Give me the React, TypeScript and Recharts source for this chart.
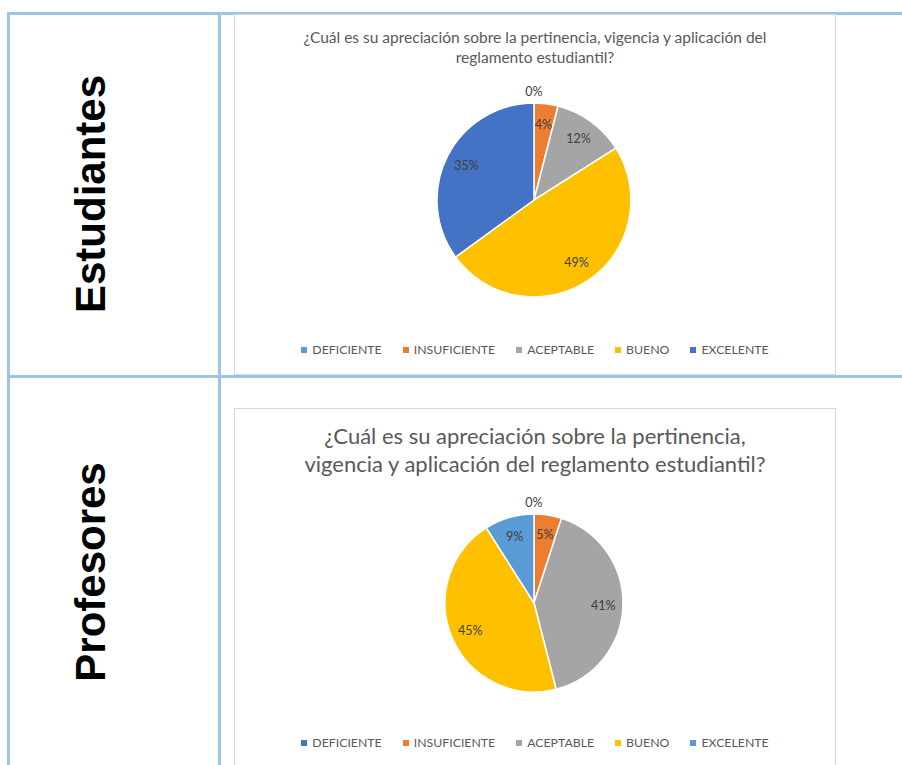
import React from 'react';
import { PieChart, Pie, Cell, Legend } from 'recharts';

// categories and values per survey group
const categories = ['DEFICIENTE', 'INSUFICIENTE', 'ACEPTABLE', 'BUENO', 'EXCELENTE'];
const studentValues = [0, 4, 12, 49, 35];
const teacherValues = [0, 5, 41, 45, 9];
const studentColors = ['#5b9bd5', '#ed7d31', '#a5a5a5', '#ffc000', '#4472c4'];
const teacherColors = ['#4472c4', '#ed7d31', '#a5a5a5', '#ffc000', '#5b9bd5'];
const rowLabels = ['Estudiantes', 'Profesores'];
const studentTitle = ['¿Cuál es su apreciación sobre la pertinencia, vigencia y aplicación del', 'reglamento estudiantil?'];
const teacherTitle = ['¿Cuál es su apreciación sobre la pertinencia,', 'vigencia y aplicación del reglamento estudiantil?'];

const RAD = Math.PI / 180;
const lineBlue = '#9dc3e6';
const textGray = '#595959';

const renderLabel = (props: any) => {
  const { cx, cy, midAngle, outerRadius, value } = props;
  const r = value === 0 ? outerRadius + 12 : outerRadius * 0.78;
  const x = cx + r * Math.cos(-midAngle * RAD);
  const y = cy + r * Math.sin(-midAngle * RAD);
  return (
    <text x={x} y={y} fill="#404040" fontSize={12.5} fontFamily="Lato" textAnchor="middle" dominantBaseline="central">
      {`${value}%`}
    </text>
  );
};

const makeLegend = (colors: string[]) => () => (
  <div style={{ display: 'flex', justifyContent: 'center', fontFamily: 'Lato', fontSize: 12.3, color: textGray }}>
    {categories.map((c, i) => (
      <div key={c} style={{ display: 'flex', alignItems: 'center', marginRight: i < categories.length - 1 ? 21 : 0 }}>
        <span style={{ width: 6, height: 6, background: colors[i], display: 'inline-block', marginRight: 5 }} />
        <span>{c}</span>
      </div>
    ))}
  </div>
);

const SurveyPie: React.FC<{ values: number[]; colors: string[]; cy: number; radius: number; legendTop: number; height: number }> = ({ values, colors, cy, radius, legendTop, height }) => {
  const data = categories.map((name, i) => ({ name, value: values[i] }));
  return (
    <PieChart width={602} height={height} margin={{ top: 0, right: 0, bottom: 0, left: 0 }}>
      <Pie
        data={data}
        dataKey="value"
        nameKey="name"
        cx={300}
        cy={cy}
        outerRadius={radius}
        startAngle={90}
        endAngle={-270}
        stroke="#ffffff"
        strokeWidth={1.5}
        label={renderLabel}
        labelLine={false}
        isAnimationActive={false}
      >
        {data.map((d, i) => (
          <Cell key={d.name} fill={colors[i]} />
        ))}
      </Pie>
      <Legend content={makeLegend(colors)} wrapperStyle={{ top: legendTop, left: 0, width: 602 }} />
    </PieChart>
  );
};

const Title: React.FC<{ lines: string[]; top: number; size: number; lineHeight: number }> = ({ lines, top, size, lineHeight }) => (
  <div style={{ position: 'absolute', left: 234, top, width: 602, textAlign: 'center', fontFamily: 'Lato', fontSize: size, lineHeight: `${lineHeight}px`, color: textGray, whiteSpace: 'nowrap' }}>
    {lines.map(l => (
      <div key={l}>{l}</div>
    ))}
  </div>
);

export default function App() {
  return (
    <div style={{ position: 'absolute', left: 0, top: 0, width: 902, height: 765, overflow: 'hidden', background: '#fff' }}>
      {/* table lines */}
      <div style={{ position: 'absolute', left: 7, top: 12, width: 895, height: 3, background: lineBlue }} />
      <div style={{ position: 'absolute', left: 7, top: 375, width: 895, height: 3, background: lineBlue }} />
      <div style={{ position: 'absolute', left: 7, top: 12, width: 3, height: 753, background: lineBlue }} />
      <div style={{ position: 'absolute', left: 218, top: 12, width: 3, height: 753, background: lineBlue }} />

      {/* row labels */}
      <svg width={220} height={765} style={{ position: 'absolute', left: 0, top: 0 }}>
        <text transform="translate(105,194) rotate(-90)" textAnchor="middle" fontFamily="Liberation Sans, Arial" fontWeight="bold" fontSize={42} fill="#000">
          {rowLabels[0]}
        </text>
        <text transform="translate(105,572) rotate(-90)" textAnchor="middle" fontFamily="Liberation Sans, Arial" fontWeight="bold" fontSize={42} fill="#000">
          {rowLabels[1]}
        </text>
      </svg>

      {/* student chart */}
      <div style={{ position: 'absolute', left: 234, top: 14, width: 602, height: 361, border: '1px solid #d9d9d9', boxSizing: 'border-box' }} />
      <Title lines={studentTitle} top={27} size={15.5} lineHeight={20} />
      <div style={{ position: 'absolute', left: 234, top: 14 }}>
        <SurveyPie values={studentValues} colors={studentColors} cy={186} radius={97} legendTop={328} height={361} />
      </div>

      {/* teacher chart */}
      <div style={{ position: 'absolute', left: 234, top: 408, width: 602, height: 400, border: '1px solid #d9d9d9', boxSizing: 'border-box' }} />
      <Title lines={teacherTitle} top={422} size={22} lineHeight={28} />
      <div style={{ position: 'absolute', left: 234, top: 408 }}>
        <SurveyPie values={teacherValues} colors={teacherColors} cy={195} radius={89} legendTop={327} height={357} />
      </div>
    </div>
  );
}
